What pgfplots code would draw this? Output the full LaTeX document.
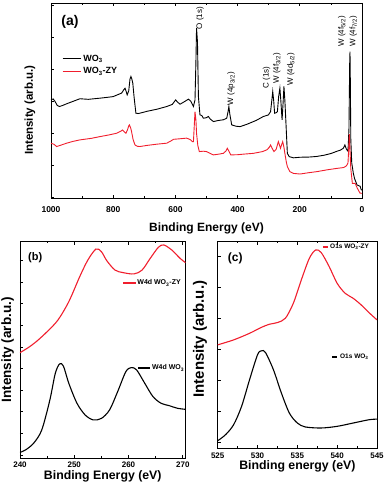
\documentclass[border=0pt]{standalone}
\usepackage{fontspec}
\setmainfont{Liberation Sans}
\usepackage{pgfplots}
\pgfplotsset{compat=1.18}
\definecolor{zyred}{RGB}{240,30,45}

\pgfplotsset{
  xpsbox/.style={
    scale only axis,
    axis line style={line width=0.8pt},
    tick style={line width=0.6pt, black},
    major tick length=3pt, minor tick length=1.8pt,
    minor x tick num=1,
    yticklabels={},
    ytick pos=left,
    tick label style={font=\bfseries\fontsize{8.5}{10}\selectfont},
    /pgf/number format/assume math mode=true,
    /pgf/number format/1000 sep={},
    ymin=0, ymax=100,
    anchor=south west,
  },
}

\begin{document}
\begin{tikzpicture}
\useasboundingbox (0,0) rectangle (386pt,487pt);

% (a) survey
\begin{axis}[xpsbox,
  at={(51pt,289pt)}, width=311pt, height=195pt,
  x dir=reverse, xmin=0, xmax=1000,
  xtick={0,200,...,1000},
  ytick={0.6,17,33.4,49.8,66.2,82.6,99},
  xticklabel style={yshift=-5pt},
  xlabel={\bfseries Binding Energy (eV)},
  xlabel style={at={(axis description cs:0.5,-0.154)}, anchor=center, font=\fontsize{12}{14}\selectfont},
  ylabel={\bfseries Intensity (arb.u.)},
  ylabel style={at={(axis description cs:-0.039,0.45)}, anchor=south, font=\fontsize{11.5}{13}\selectfont},
  legend style={at={(0.035,0.745)}, anchor=north west, draw=none, fill=none,
    font=\bfseries\fontsize{9}{11}\selectfont, inner sep=0pt, row sep=1pt},
  legend cell align=left,
  legend image code/.code={\draw[#1,line width=1.2pt] (0pt,0pt) -- (18pt,0pt);},
]
\addplot[black, line width=0.9pt] coordinates {
(1000,50.3)(993,50.8)(987,49.5)(980,47.5)(973,46.9)(962,47.5)(950,48.3)(930,49.5)
(907,50.9)(880,50.6)(842,51.2)(820,51.6)(800,52)(785,53)(773,53.8)(766,55.5)
(762,56.3)(758,54.5)(755,52.9)(750,55)(746,61)(743,62.3)(740,61)(737,58.9)
(733,52)(727,43.5)(720,43.3)(714,43.5)(690,44.5)(660,45.5)(628,46.9)(610,48)
(603,49.5)(599,50.3)(594,49.3)(585,48.1)(570,49.5)(558,50.7)(550,49.5)(542,46.9)
(537,50.3)(534,70)(532,87.2)(529,80)(526,52)(521,42.6)(515,42.3)(510,40.9)
(500,41.2)(494,41.8)(488,40.5)(478,39.2)(460,39.8)(446,40.1)(435,40.9)(431,44)
(428,46.9)(425,43)(419,37.5)(405,36.8)(392,36.6)(370,37.8)(340,39.8)(317,41.8)
(301,42.6)(294,44.3)(290,50)(287,54.6)(284,50)(281,43.5)(275,43.8)(272,44.3)
(268,52)(264,56.3)(261,50)(257,40.1)(254,48)(251,57.2)(248,50)(244,36.6)
(240,22.9)(234,21.2)(220,20.6)(199,20.9)(170,21)(146,21.3)(120,22)(100,22.8)
(80,24)(70,24.5)(60,25.5)(55,27.2)(50,25)(45,24)(42,35)(39.5,70)(38.6,75)
(37.5,60)(36,30)(33,18)(28,12.8)(24,10)(16,6.7)(6,6)(3,4.5)(0,4)
};
\addlegendentry{WO\textsubscript{3}}
\addplot[zyred, line width=0.9pt] coordinates {
(1000,28.1)(990,27.5)(982,26.4)(970,27)(950,28.1)(930,29)(907,29.8)(870,30.6)
(842,31.5)(815,32.3)(789,33.2)(775,34.3)(770,34.9)(765,34)(759,33.2)(754,35)
(750,37)(748,37.5)(744,36)(741,34.1)(736,30)(730,27.2)(722,26.5)(714,26.4)
(690,27)(660,27.6)(628,28.1)(615,29.2)(606,30.1)(590,30.3)(564,30.7)(556,30.2)
(551,29.8)(545,28.9)(542,28.9)(539,38)(537,44.3)(534,40)(532,33.2)(528,27)
(523,23.8)(510,24)(500,23.8)(490,23)(478,22.1)(460,22.5)(446,22.9)(438,24)
(433,25.5)(428,24)(422,22.1)(400,22.2)(380,22.5)(349,22.9)(320,23.8)(306,24.7)
(298,26)(294,27.2)(289,25.5)(283,23.8)(276,25)(269,28.9)(265,27)(262,25.5)
(258,27.5)(255,28.9)(251,26)(248,22.9)(244,19)(240,16.1)(232,13.5)(220,12.6)
(199,12.3)(170,13)(146,13.5)(110,14.5)(80,15.2)(60,15.6)(54.7,16)(50,16.5)
(45,18)(42,28)(40.8,32.7)(39,26)(36,15)(31,7.5)(22,7.5)(15,5)(6.4,2.5)(0,2.4)
};
\addlegendentry{WO\textsubscript{3}-ZY}
\begin{scope}[every node/.style={rotate=90, anchor=west, inner sep=0pt, font=\fontsize{8}{9.5}\selectfont}]
\node at (axis cs:521,86.5) {O (1s)};
\node at (axis cs:421,47.5) {W (4p\textsubscript{3/2})};
\node at (axis cs:307,56) {C (1s)};
\node at (axis cs:274,58.5) {W (4f\textsubscript{3/2})};
\node at (axis cs:229,57.5) {W (4d\textsubscript{5/2})};
\node at (axis cs:65,77.5) {W (4f\textsubscript{5/2})};
\node at (axis cs:28,77.5) {W (4f\textsubscript{7/2})};
\end{scope}
\node[font=\bfseries\fontsize{14}{16}\selectfont] at (axis cs:939,90.3) {(a)};
\end{axis}

% (b) W4d
\begin{axis}[xpsbox,
  at={(20pt,29pt)}, width=165.5pt, height=216.3pt,
  xmin=240, xmax=270.5,
  xtick={240,250,260,270},
  ytick={1.4,11.4,...,91.4},
  tick label style={font=\bfseries\fontsize{8}{10}\selectfont},
  xlabel={\bfseries Binding Energy (eV)},
  xlabel style={at={(axis description cs:0.5,-0.0855)}, anchor=center, font=\fontsize{12.3}{14}\selectfont},
  ylabel={\bfseries Intensity (arb.u.)},
  ylabel style={at={(axis description cs:-0.016,0.5)}, anchor=south, font=\fontsize{13.5}{15}\selectfont},
]
\addplot[zyred, line width=1.1pt, smooth, tension=0.5] coordinates {
(240,48.7)(241.5,51)(243,53.8)(245,58.4)(247,63.8)(249,72.3)(251,83.8)(252.5,91.5)
(254,96.6)(255,95.4)(256,91.2)(257.5,86.9)(259,85.7)(261,85.1)(262.5,86.9)(264,92.3)
(265.5,97.4)(266.5,98.5)(268,96.1)(269.5,92.3)(270.5,90.3)
};
\addplot[black, line width=1.1pt, smooth, tension=0.5] coordinates {
(240,2.6)(241,3.7)(242.5,6.8)(244,12.9)(245.5,26.8)(246.5,39.1)(247.3,43.5)(248,42.5)
(249,34.5)(250.5,25.3)(252,19.9)(253.5,17.6)(255,18.3)(256.5,22.2)(258,30.7)(259.5,39.9)
(260.5,41.8)(261.5,40.7)(263,34.5)(264.5,28.4)(266,25.3)(267.5,24.2)(269,23)(270.5,22.5)
};
\draw[zyred, line width=1.2pt] (axis cs:259,80.9) -- (axis cs:261.4,80.9);
\node[anchor=west, inner sep=0pt, font=\bfseries\fontsize{7}{8}\selectfont] at (axis cs:261.6,80.9) {W4d WO\textsubscript{3}-ZY};
\draw[black, line width=1.2pt] (axis cs:261.75,41.6) -- (axis cs:263.9,41.6);
\node[anchor=west, inner sep=0pt, font=\bfseries\fontsize{7}{8}\selectfont] at (axis cs:264.3,41.6) {W4d WO\textsubscript{3}};
\node[font=\bfseries\fontsize{11}{13}\selectfont] at (axis cs:242.8,92.5) {(b)};
\end{axis}

% (c) O1s
\begin{axis}[xpsbox,
  at={(217.7pt,39pt)}, width=159.3pt, height=206.3pt,
  xmin=525, xmax=545,
  xtick={525,530,...,545},
  ytick={3,18,...,93},
  tick label style={font=\bfseries\fontsize{8}{10}\selectfont},
  xticklabel style={yshift=-1.5pt},
  xlabel={\bfseries Binding energy (eV)},
  xlabel style={at={(axis description cs:0.5,-0.0897)}, anchor=center, font=\fontsize{12.3}{14}\selectfont},
  ylabel={\bfseries Intensity (arb.u.)},
  ylabel style={at={(axis description cs:-0.045,0.528)}, anchor=south, font=\fontsize{15}{17}\selectfont},
]
\addplot[zyred, line width=1.1pt, smooth, tension=0.5] coordinates {
(525,50)(527,52.4)(529,55.6)(530.5,58.5)(531.5,60)(532.5,60.8)(533.5,62.9)(534.5,70.2)
(535.5,81.5)(536.5,91.9)(537.3,96)(538,94.7)(539,87.9)(540,79.8)(541,75)(542,72.6)
(543,69.4)(544,65.6)(545,62.1)
};
\addplot[black, line width=1.1pt, smooth, tension=0.5] coordinates {
(525,3.5)(526,6.5)(527,11.3)(528,20.2)(529,33.1)(530,45.2)(530.5,47.1)(531,46.3)
(532,37.9)(533,26.6)(534,16.9)(535,12.1)(536,10.2)(538,9.7)(540,10.5)(542,12.1)
(544,13.7)(545,14)
};
\draw[zyred, line width=1.2pt] (axis cs:538.2,97.4) -- (axis cs:538.85,97.4);
\node[anchor=west, inner sep=0pt, font=\bfseries\fontsize{6.5}{7.5}\selectfont] at (axis cs:539.1,97.4) {O1s WO\textsubscript{3}-ZY};
\draw[black, line width=1.2pt] (axis cs:539.35,44.1) -- (axis cs:540,44.1);
\node[anchor=west, inner sep=0pt, font=\bfseries\fontsize{6.5}{7.5}\selectfont] at (axis cs:540.35,44.1) {O1s WO\textsubscript{3}};
\node[font=\bfseries\fontsize{12}{14}\selectfont] at (axis cs:527.2,92.1) {(c)};
\end{axis}
\end{tikzpicture}
\end{document}
